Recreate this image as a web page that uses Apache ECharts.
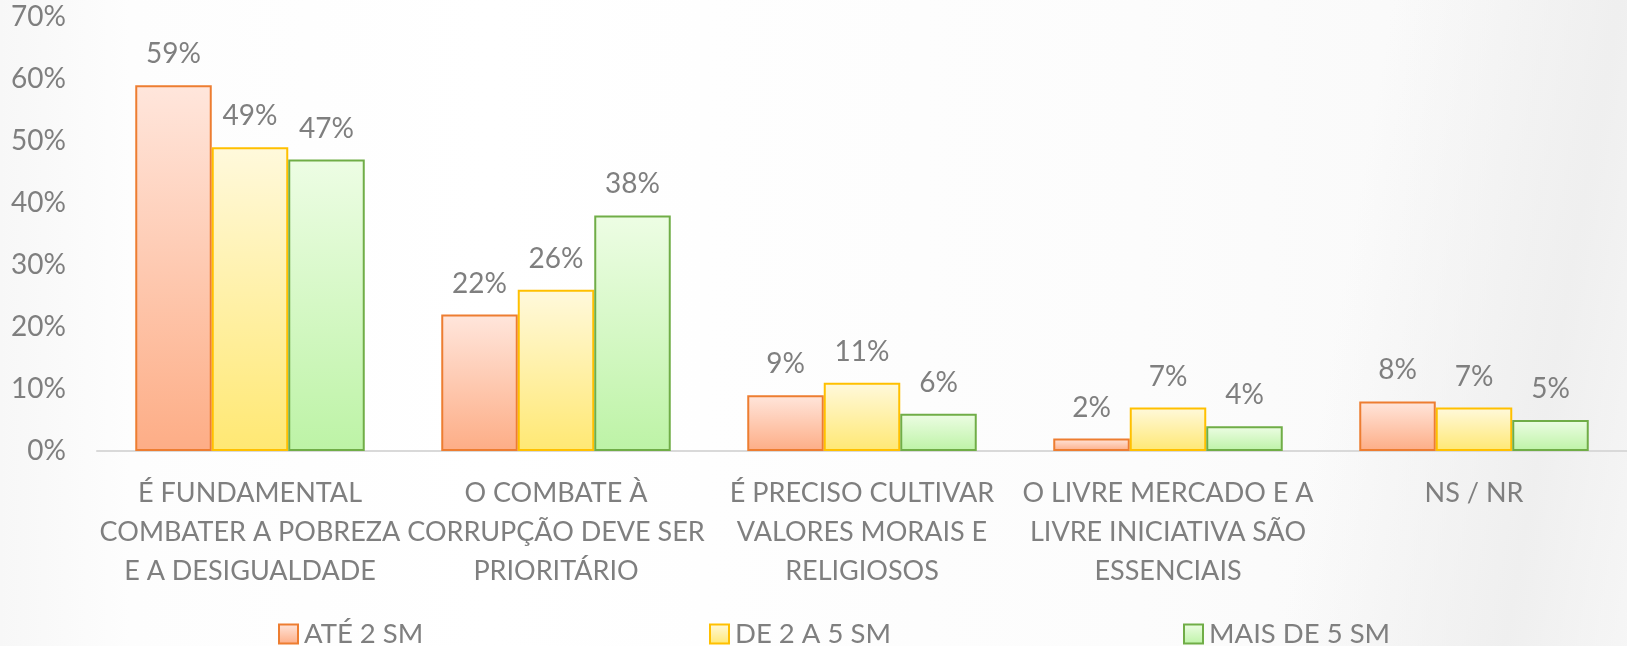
<!DOCTYPE html>
<html>
<head>
<meta charset="utf-8">
<script src="https://cdn.jsdelivr.net/npm/echarts@6/dist/echarts.min.js"></script>
<style>
  html, body { margin: 0; padding: 0; }
  body {
    width: 1627px; height: 646px; overflow: hidden;
    background:
      linear-gradient(100deg, rgba(235,235,235,0) 80%, rgba(238,238,238,0.9) 93%, rgba(244,244,244,0.6) 100%),
      linear-gradient(90deg, #f7f7f7 0%, #fdfdfd 8%, #ffffff 30%, #fcfcfc 70%, #f8f8f8 100%);
  }
  #chart { width: 1627px; height: 646px; }
</style>
</head>
<body>
<div id="chart"></div>
<script>
// Opinião por faixa de renda (salários mínimos), em %
const categories = [
  'É FUNDAMENTAL\nCOMBATER A POBREZA\nE A DESIGUALDADE',
  'O COMBATE À\nCORRUPÇÃO DEVE SER\nPRIORITÁRIO',
  'É PRECISO CULTIVAR\nVALORES MORAIS E\nRELIGIOSOS',
  'O LIVRE MERCADO E A\nLIVRE INICIATIVA SÃO\nESSENCIAIS',
  'NS / NR'
];
const seriesNames = ['ATÉ 2 SM', 'DE 2 A 5 SM', 'MAIS DE 5 SM'];
const ate2 = [59, 22, 9, 2, 8];
const de2a5 = [49, 26, 11, 7, 7];
const mais5 = [47, 38, 6, 4, 5];

const FONT = 'Lato';
const GRAY = '#7f7f7f';

function grad(top, bottom) {
  return new echarts.graphic.LinearGradient(0, 0, 0, 1, [
    { offset: 0, color: top },
    { offset: 1, color: bottom }
  ]);
}

const styles = [
  { border: '#ed7d31', top: '#ffe6dc', bottom: '#fdad86' },
  { border: '#ffc000', top: '#fff9dc', bottom: '#ffe873' },
  { border: '#70ad47', top: '#edfde4', bottom: '#bdf3a6' }
];
const values = [ate2, de2a5, mais5];

// one legend entry per slot, spread across the bottom
const legendLeft = [278, 709, 1183];

const chart = echarts.init(document.getElementById('chart'), null, { renderer: 'canvas' });

chart.setOption({
  backgroundColor: 'transparent',
  animation: false,
  textStyle: { fontFamily: FONT },
  grid: { left: 97, right: 0, top: 17, bottom: 195, containLabel: false },
  legend: seriesNames.map((name, i) => ({
    left: legendLeft[i],
    top: 620,
    padding: 0,
    itemWidth: 19,
    itemHeight: 19,
    icon: 'rect',
    textStyle: { color: GRAY, fontSize: 27.5, fontFamily: FONT, padding: [0, 0, 0, 1] },
    data: [name]
  })),
  xAxis: {
    type: 'category',
    data: categories,
    axisLine: { show: true, lineStyle: { color: '#d9d9d9', width: 2 } },
    axisTick: { show: false },
    axisLabel: {
      color: GRAY, fontSize: 27, fontFamily: FONT,
      lineHeight: 39, margin: 23, interval: 0
    }
  },
  yAxis: {
    type: 'value',
    min: 0, max: 70, interval: 10,
    axisLine: { show: false },
    axisTick: { show: false },
    splitLine: { show: false },
    axisLabel: {
      color: GRAY, fontSize: 28, fontFamily: FONT, margin: 31,
      formatter: '{value}%'
    }
  },
  series: seriesNames.map((name, i) => ({
    name: name,
    type: 'bar',
    data: values[i],
    barGap: '0%',
    barCategoryGap: '25%',
    itemStyle: {
      color: grad(styles[i].top, styles[i].bottom),
      borderColor: styles[i].border,
      borderWidth: 2
    },
    label: {
      show: true,
      position: 'top',
      distance: 17,
      color: GRAY,
      fontSize: 28,
      fontFamily: FONT,
      formatter: '{c}%'
    }
  }))
});
</script>
</body>
</html>
